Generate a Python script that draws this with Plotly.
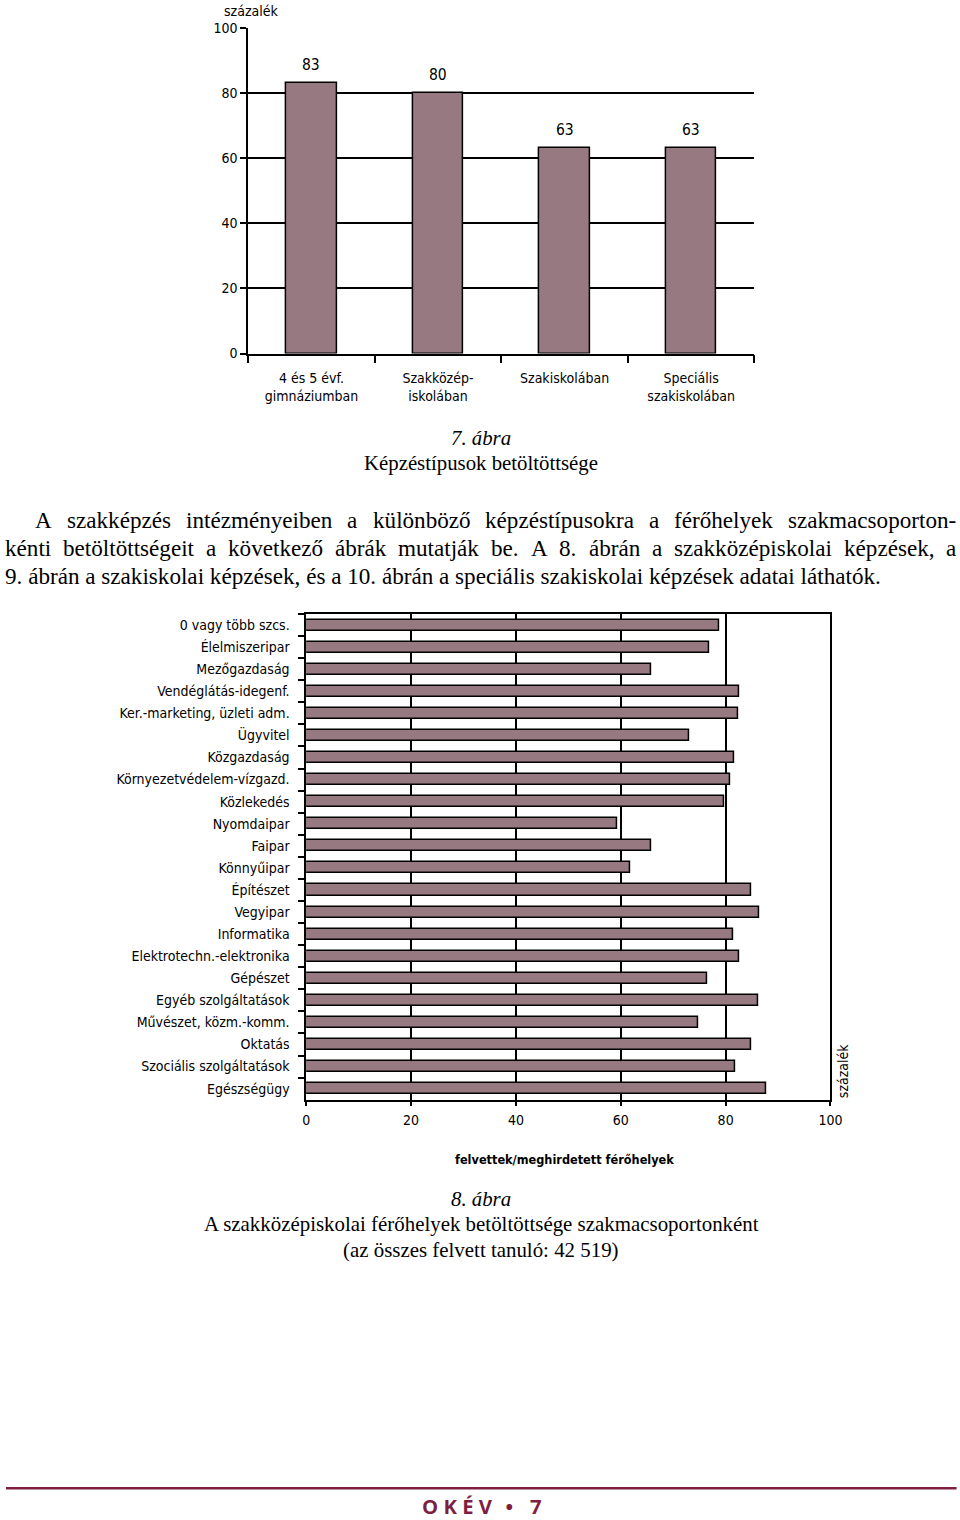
import plotly.graph_objects as go

# ---------------- data ----------------
cats_top = ["4 és 5 évf.<br>gimnáziumban", "Szakközép-<br>iskolában", "Szakiskolában", "Speciális<br>szakiskolában"]
vals_top = [83, 80, 63, 63]

cats_bottom = ["0 vagy több szcs.", "Élelmiszeripar", "Mezőgazdaság", "Vendéglátás-idegenf.",
               "Ker.-marketing, üzleti adm.", "Ügyvitel", "Közgazdaság", "Környezetvédelem-vízgazd.",
               "Közlekedés", "Nyomdaipar", "Faipar", "Könnyűipar", "Építészet", "Vegyipar",
               "Informatika", "Elektrotechn.-elektronika", "Gépészet", "Egyéb szolgáltatások",
               "Művészet, közm.-komm.", "Oktatás", "Szociális szolgáltatások", "Egészségügy"]
vals_bottom = [78.7, 76.8, 65.8, 82.6, 82.3, 73.0, 81.6, 80.8, 79.8, 59.4, 65.8, 61.8,
               84.9, 86.4, 81.4, 82.6, 76.5, 86.2, 74.7, 84.9, 81.9, 87.7]

x_ticks_bottom = [0, 20, 40, 60, 80, 100]
y_ticks_top = [0, 20, 40, 60, 80, 100]

# ---------------- style / page geometry ----------------
SX, OX = 0.983, 3.0          # observed page transform (figure px -> picture px)
SY, OY = 0.988, 8.0
W, H = 975, 1532
BAR = "#977982"
NARROW = "DejaVu Sans Condensed, Liberation Sans Narrow, sans-serif"
SERIF = "Liberation Serif, Times New Roman, serif"
MAROON = "#7e1f42"
TICK = 14.0


def px(x):
    return ((x - OX) / SX) / W


def py(y):
    return 1 - ((y - OY) / SY) / H


fig = go.Figure()

fig.add_trace(go.Bar(x=cats_top, y=vals_top, width=0.4, marker=dict(color=BAR, line=dict(color="black", width=1.5)),
                     xaxis="x", yaxis="y", showlegend=False))
fig.add_trace(go.Bar(y=cats_bottom, x=vals_bottom, orientation="h", width=0.5,
                     marker=dict(color=BAR, line=dict(color="black", width=1.5)),
                     xaxis="x2", yaxis="y2", showlegend=False))

axis_common = dict(showline=True, linecolor="black", linewidth=1.5, ticks="outside", tickcolor="black",
                   tickwidth=1.5, zeroline=False, tickfont=dict(family=NARROW, size=TICK, color="black"))

fig.update_layout(
    width=W, height=H, margin=dict(l=0, r=0, t=0, b=0),
    paper_bgcolor="white", plot_bgcolor="white", bargap=0,
    xaxis=dict(domain=[px(247), px(753)], anchor="y", type="category", tickson="boundaries", ticklen=8,
               ticklabelstandoff=11, showgrid=False, **axis_common),
    yaxis=dict(domain=[py(353), py(28)], anchor="x", range=[0, 100], tickvals=y_ticks_top, ticklen=6,
               showgrid=True, gridcolor="black", gridwidth=1.5, **axis_common),
    xaxis2=dict(domain=[px(305), px(829)], anchor="y2", range=[0, 100], tickvals=x_ticks_bottom, ticklen=5,
                ticklabelstandoff=2, showgrid=True, gridcolor="black", gridwidth=1.5, mirror=True, **axis_common),
    yaxis2=dict(domain=[py(1098), py(613)], anchor="x2", type="category", autorange="reversed",
                tickson="boundaries", ticklen=6, ticklabelstandoff=12, showgrid=False, mirror=True, **axis_common),
)

ann = []
# value labels on top chart
for c, v in zip(cats_top, vals_top):
    ann.append(dict(x=c, y=v, xref="x", yref="y", text=str(v), showarrow=False, yanchor="bottom", yshift=7,
                    font=dict(family=NARROW, size=15.5, color="black")))


def text(x, y, t, size=16, family=NARROW, xanchor="center", angle=0, color="black"):
    ann.append(dict(x=px(x), y=py(y), xref="paper", yref="paper", text=t, showarrow=False, xanchor=xanchor,
                    yanchor="middle", textangle=angle, borderpad=0, borderwidth=0,
                    font=dict(family=family, size=size, color=color)))


text(250, 11, "százalék", 14)
text(480, 437, "<i>7. ábra</i>", 20.8, SERIF)
text(480, 462, "Képzéstípusok betöltöttsége", 20.8, SERIF)

# paragraph (justified lines); widths in picture px
TW = {' ': 250, 'a': 444, 'b': 500, 'c': 444, 'd': 500, 'e': 444, 'f': 333, 'g': 500, 'h': 500, 'i': 278,
      'j': 278, 'k': 500, 'l': 278, 'm': 778, 'n': 500, 'o': 500, 'p': 500, 'q': 500, 'r': 333, 's': 389,
      't': 278, 'u': 500, 'v': 500, 'w': 722, 'x': 500, 'y': 500, 'z': 444, 'A': 722, 'K': 722, '.': 250,
      ',': 250, '-': 333, 'á': 444, 'é': 444, 'í': 278, 'ó': 500, 'ö': 500, 'ő': 500, 'ú': 500, 'ü': 500,
      'ű': 500}
PREF = 23.1                 # size as seen in the picture (layout computation)
PSIZE = 23.13               # size given to plotly


def justified(line, x0, x1, y):
    words = line.split(" ")
    widths = [sum(TW.get(ch, 500) for ch in w) * PREF / 1000 for w in words]
    gap = (x1 - x0 - sum(widths)) / (len(words) - 1)
    x = x0
    for w, wd in zip(words, widths):
        text(x, y, w, PSIZE, SERIF, xanchor="left")
        x += wd + gap


justified("A szakképzés intézményeiben a különböző képzéstípusokra a férőhelyek szakmacsoporton-", 34, 955, 519)
justified("kénti betöltöttségeit a következő ábrák mutatják be. A 8. ábrán a szakközépiskolai képzések, a", 4, 955, 547)
text(4, 575, "9. ábrán a szakiskolai képzések, és a 10. ábrán a speciális szakiskolai képzések adatai láthatók.",
     PSIZE, SERIF, xanchor="left")

text(563, 1158, "<b>felvettek/meghirdetett férőhelyek</b>", 12.6)
text(841, 1070, "százalék", 14, angle=-90)

text(480, 1197, "<i>8. ábra</i>", 20.8, SERIF)
text(480, 1222, "A szakközépiskolai férőhelyek betöltöttsége szakmacsoportonként", 20.9, SERIF)
text(480, 1248, "(az összes felvett tanuló: 42 519)", 20.9, SERIF)

text(481, 1504, "<b>O K É V\u2002\u2009•\u2002\u2009\u20097</b>", 20.3, "Open Sans, Liberation Sans, sans-serif",
     color=MAROON)

fig.update_layout(annotations=ann)
fig.add_shape(type="line", xref="paper", yref="paper", x0=px(5), x1=px(955), y0=py(1486), y1=py(1486),
              line=dict(color=MAROON, width=2.5))

fig.write_html("out.html")
